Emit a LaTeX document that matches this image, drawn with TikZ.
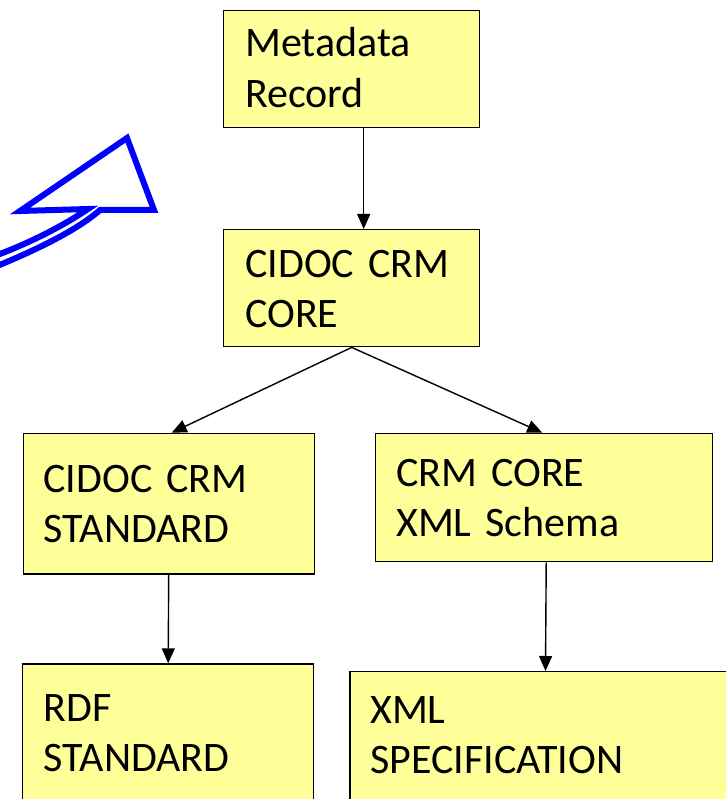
\documentclass[tikz,border=0pt]{standalone}
\usepackage{fontspec}
\setmainfont{Carlito}
\usetikzlibrary{arrows.meta}
\definecolor{boxfill}{HTML}{FFFF99}
\definecolor{arrowblue}{RGB}{0,0,255}
\begin{document}
\begin{tikzpicture}[x=1pt,y=-1pt,
  box/.style={draw=black, line width=1.4pt, fill=boxfill, rectangle, inner sep=0pt, anchor=north west},
  txt/.style={anchor=base west, inner sep=0pt, align=left, text width=340pt,
    font=\fontsize{42}{50.3}\selectfont},
  conn/.style={draw=black, line width=1.4pt, -{Triangle[length=15pt,width=13pt]}},
  bigarrow/.style={draw=arrowblue, line width=6pt, line join=miter}]
\useasboundingbox (0,0) rectangle (726,799);
\begin{scope}
\clip (0,0) rectangle (726,799);
\fill[white] (0,0) rectangle (726,799);
% boxes
\node[box, minimum width=256pt, minimum height=117pt] (meta) at (223,10) {};
\node[box, minimum width=256pt, minimum height=117pt] (core) at (223,229) {};
\node[box, minimum width=291pt, minimum height=140.5pt] (std) at (22.5,432.7) {};
\node[box, minimum width=337pt, minimum height=128.3pt] (schema) at (375,432.7) {};
\node[box, minimum width=291pt, minimum height=145pt] (rdf) at (22,663.3) {};
\node[box, minimum width=391pt, minimum height=140pt] (spec) at (349.3,671) {};
% texts
\node[txt] (metaT) at (245,57) {Metadata\\Record};
\node[txt] (coreT) at (245,277) {CIDOC CRM\\CORE};
\node[txt] (stdT) at (43.3,492.5) {CIDOC CRM\\STANDARD};
\node[txt] (schemaT) at (396,486) {CRM CORE\\XML Schema};
\node[txt] (rdfT) at (43.3,721.5) {RDF\\STANDARD};
\node[txt] (specT) at (370,723.3) {XML\\SPECIFICATION};
% connectors
\draw[conn] ([xshift=12pt]meta.south) -- ([xshift=12pt]core.north);
\draw[conn] (core.south) -- ([xshift=3pt]std.north);
\draw[conn] (core.south) -- ([xshift=-2pt]schema.north);
\draw[conn] (std.south) -- (rdf.north);
\draw[conn] ([xshift=2pt]schema.south) -- (spec.north);
% blue curved arrow
\draw[bigarrow] (-20,261) .. controls (20,248) and (60,228) .. (88,209)
  -- (20,211) -- (127,138) -- (154,210) -- (100,210)
  .. controls (75,232) and (30,253) .. (-20,273);
\end{scope}
\end{tikzpicture}
\end{document}
